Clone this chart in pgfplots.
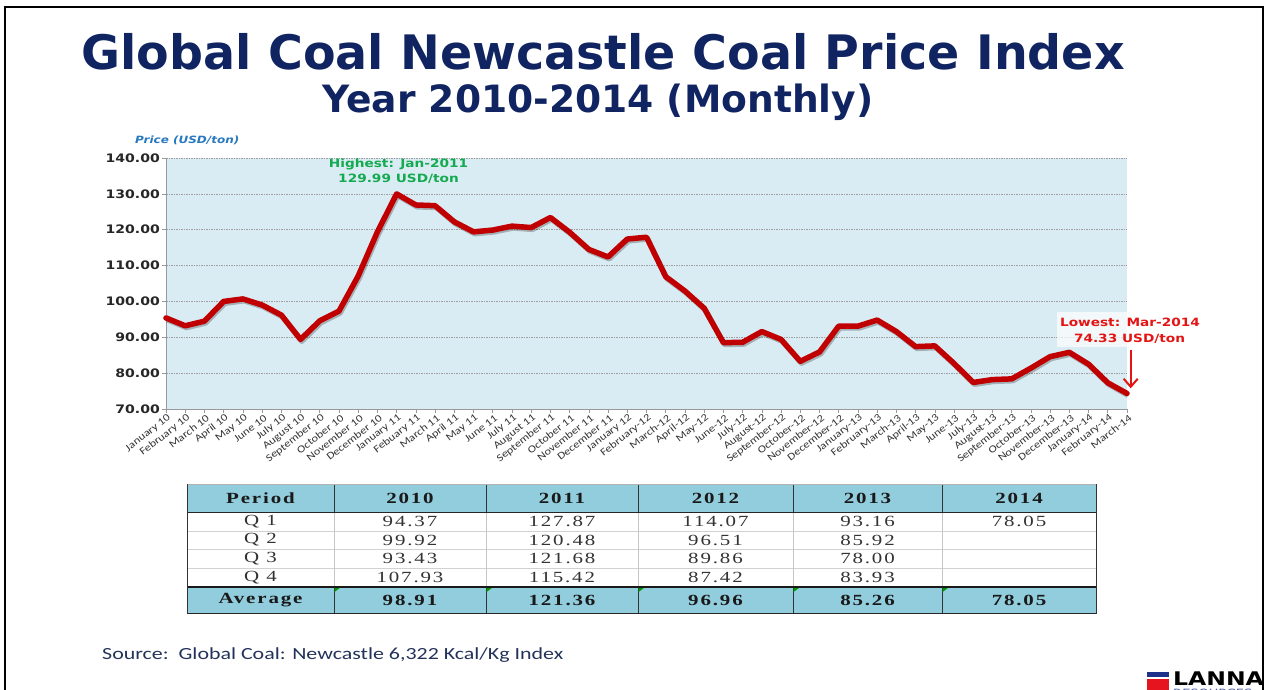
\documentclass[border=0pt]{standalone}
\usepackage{fontspec}
\usepackage{graphicx}
\usepackage{pgfplots}
\usepackage{pgfplotstable}
\pgfplotsset{compat=1.18}
\usetikzlibrary{arrows.meta}
\setmainfont{DejaVu Sans}
\newfontfamily\vb[FakeStretch=1.2]{DejaVu Sans}
\newfontfamily\calib[FakeStretch=1.2]{Carlito}
\newfontfamily\calibn[FakeStretch=1.29]{Carlito}
\newfontfamily\tnr[FakeStretch=1.35,LetterSpace=12]{Liberation Serif}
\definecolor{titleblue}{RGB}{16,36,98}
\definecolor{bgblue}{RGB}{218,236,243}
\definecolor{linered}{RGB}{192,0,0}
\definecolor{annogreen}{RGB}{20,170,80}
\definecolor{annored}{RGB}{228,20,20}
\definecolor{pricelab}{RGB}{40,120,190}
\definecolor{tblue}{RGB}{146,205,221}
\definecolor{srcblue}{RGB}{35,50,90}
\definecolor{logoblue}{RGB}{30,50,140}
\definecolor{logored}{RGB}{230,20,30}

\pgfplotstableread{
i v
0 95.4
1 93.2
2 94.5
3 100.0
4 100.7
5 99.0
6 96.2
7 89.4
8 94.6
9 97.3
10 107.1
11 119.4
12 129.99
13 126.9
14 126.7
15 122.2
16 119.4
17 119.9
18 121.0
19 120.6
20 123.4
21 119.3
22 114.5
23 112.4
24 117.4
25 117.9
26 106.9
27 102.9
28 98.1
29 88.5
30 88.6
31 91.6
32 89.4
33 83.3
34 85.9
35 93.1
36 93.1
37 94.8
38 91.6
39 87.4
40 87.6
41 82.7
42 77.4
43 78.2
44 78.4
45 81.4
46 84.6
47 85.8
48 82.5
49 77.3
50 74.33
}\coaldata

\begin{document}
\begin{tikzpicture}[x=1pt,y=1pt]
\useasboundingbox (0,0) rectangle (1266,690);
% slide frame
\draw[line width=2pt] (4.7,-5) -- (4.7,682.7) -- (1263.3,682.7) -- (1263.3,-5);
% titles
\node[anchor=base, text=titleblue, inner sep=0, font=\bfseries\fontsize{47.5}{50}\selectfont] at (603,620) {Global Coal Newcastle Coal Price Index};
\node[anchor=base, text=titleblue, inner sep=0, font=\bfseries\fontsize{37.6}{40}\selectfont] at (598,577) {Year 2010-2014 (Monthly)};
\node[anchor=base west, text=pricelab, inner sep=0, font=\vb\bfseries\itshape\fontsize{10}{12}\selectfont] at (135,546.7) {Price (USD/ton)};

\begin{axis}[at={(166pt,281pt)}, anchor=south west, scale only axis,
  width=961pt, height=251pt,
  xmin=0, xmax=50, ymin=70, ymax=140,
  clip=false,
  axis background/.style={fill=bgblue},
  axis x line*=bottom, axis y line*=left,
  axis line style={-, draw=gray!80, line width=0.7pt},
  tick align=outside, major tick length=4pt,
  tick style={gray!80, line width=0.6pt},
  ytick={70,80,...,140},
  yticklabels={70.00,80.00,90.00,100.00,110.00,120.00,130.00,140.00},
  ymajorgrids,
  grid style={dash pattern=on 1.5pt off 1pt, gray!75, line width=0.5pt},
  y tick label style={font=\vb\bfseries\fontsize{11.7}{13}\selectfont, text=black!85, inner sep=0pt, xshift=-2pt},
  xtick={0,1,...,50},
  xticklabels={January 10,February 10,March 10,April 10,May 10,June 10,July 10,August 10,September 10,October 10,November 10,December 10,January 11,Febuary 11,March 11,April 11,May 11,June 11,July 11,August 11,September 11,October 11,November 11,December 11,January 12,February-12,March-12,April-12,May-12,June-12,July-12,August-12,September-12,October-12,November-12,December-12,January-13,February-13,March-13,April-13,May-13,June-13,July-13,August-13,September-13,October-13,November-13,December-13,January-14,February-14,March-14},
  x tick label style={font=\calib\fontsize{10.3}{12}\selectfont, text=black!80, rotate=38, anchor=east, inner sep=0.5pt, yshift=-5pt, xshift=1pt},
]
\addplot[no marks, black, opacity=0.25, line width=5.5pt, line join=round, transform canvas={xshift=1.2pt,yshift=-1.8pt}] table[x=i,y=v]{\coaldata};
\addplot[no marks, linered, line width=5.5pt, line join=round, line cap=round] table[x=i,y=v]{\coaldata};
\end{axis}

% annotations
\node[anchor=base, text=annogreen, inner sep=0, font=\vb\bfseries\fontsize{11.4}{13}\selectfont] at (398.5,522.3) {Highest: Jan-2011};
\node[anchor=base, text=annogreen, inner sep=0, font=\vb\bfseries\fontsize{11.4}{13}\selectfont] at (398.5,507) {129.99 USD/ton};
\fill[white, opacity=0.7] (1057,343) rectangle (1203,378);
\node[anchor=base, text=annored, inner sep=0, font=\vb\bfseries\fontsize{11.4}{13}\selectfont] at (1130,363.3) {Lowest: Mar-2014};
\node[anchor=base, text=annored, inner sep=0, font=\vb\bfseries\fontsize{11.4}{13}\selectfont] at (1129.5,347.3) {74.33 USD/ton};
\draw[annored, line width=2pt, -{Straight Barb[length=8pt, width=14pt]}] (1130.7,340) -- (1130.7,301.7);

% table
\fill[tblue] (187,177) rectangle (1096,206);
\fill[tblue] (187,76) rectangle (1096,103);
\foreach \yy in {159,141,122} {\draw[gray!35, line width=0.6pt] (187,\yy) -- (1096,\yy);}
\foreach \xx in {334,486,638,793,942} {
  \draw[black!80, line width=0.9pt] (\xx,177) -- (\xx,206);
  \draw[black!80, line width=0.9pt] (\xx,76) -- (\xx,103);
  \draw[gray!45, line width=0.6pt] (\xx,103) -- (\xx,177);
  \fill[green!60!black] (\xx+0.5,102.5) -- (\xx+6.5,102.5) -- (\xx+0.5,98) -- cycle;
}
\draw[gray!60, line width=0.8pt] (187,206) -- (1096,206);
\draw[black!85, line width=1pt] (187,177) -- (1096,177);
\draw[black!90, line width=1.4pt] (187,103) -- (1096,103);
\draw[black!85, line width=1pt] (187,76) -- (1096,76);
\draw[black!80, line width=0.9pt] (187,76) -- (187,206);
\draw[black!80, line width=0.9pt] (1096,76) -- (1096,206);

\tikzset{th/.style={inner sep=0, text=black!90, font=\tnr\bfseries\fontsize{15.5}{16}\selectfont},
         td/.style={inner sep=0, text=black!80, font=\tnr\fontsize{15.5}{16}\selectfont}}
% header
\node[th] at (260.5,191.5) {Period};
\node[th] at (410,191.5) {2010};
\node[th] at (562,191.5) {2011};
\node[th] at (715.5,191.5) {2012};
\node[th] at (867.5,191.5) {2013};
\node[th] at (1019,191.5) {2014};
% body
\node[td] at (260.5,168.5) {Q 1};
\node[td] at (410,168.5) {94.37};
\node[td] at (562,168.5) {127.87};
\node[td] at (715.5,168.5) {114.07};
\node[td] at (867.5,168.5) {93.16};
\node[td] at (1019,168.5) {78.05};
\node[td] at (260.5,150) {Q 2};
\node[td] at (410,150) {99.92};
\node[td] at (562,150) {120.48};
\node[td] at (715.5,150) {96.51};
\node[td] at (867.5,150) {85.92};
\node[td] at (260.5,131.5) {Q 3};
\node[td] at (410,131.5) {93.43};
\node[td] at (562,131.5) {121.68};
\node[td] at (715.5,131.5) {89.86};
\node[td] at (867.5,131.5) {78.00};
\node[td] at (260.5,112.5) {Q 4};
\node[td] at (410,112.5) {107.93};
\node[td] at (562,112.5) {115.42};
\node[td] at (715.5,112.5) {87.42};
\node[td] at (867.5,112.5) {83.93};
% average
\node[th] at (260.5,89.5) {Average};
\node[th] at (410,89.5) {98.91};
\node[th] at (562,89.5) {121.36};
\node[th] at (715.5,89.5) {96.96};
\node[th] at (867.5,89.5) {85.26};
\node[th] at (1019,89.5) {78.05};

% source
\node[anchor=base west, text=srcblue, inner sep=0, font=\calibn\fontsize{17}{20}\selectfont] at (102,30) {Source:\ \ Global Coal: Newcastle 6,322 Kcal/Kg Index};

% logo
\fill[logoblue] (1147,12.7) rectangle (1169,17.7);
\fill[logored] (1147,-2) rectangle (1169,10.7);
\node[anchor=base west, inner sep=0, font=\bfseries\fontsize{18.8}{20}\selectfont] at (1173,4.3) {\scalebox{1.25}[1]{LANNA}};
\node[anchor=base west, inner sep=0, text=logoblue!80, font=\fontsize{10}{11}\selectfont] at (1173,-6.5) {\scalebox{1.3}[1]{RESOURCES}};
\end{tikzpicture}
\end{document}
